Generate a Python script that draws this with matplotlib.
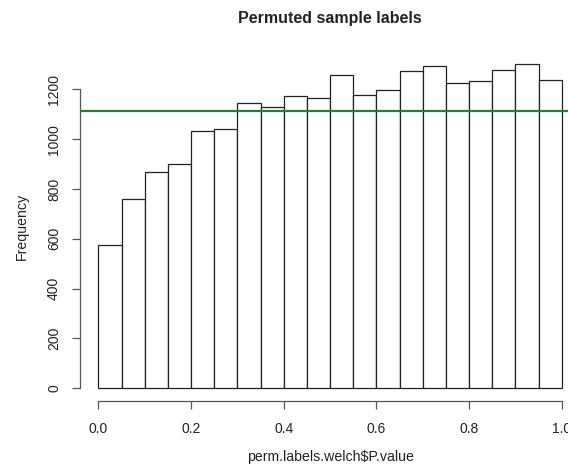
import numpy as np
import matplotlib.pyplot as plt

plt.rcParams['font.family'] = ['Liberation Sans', 'DejaVu Sans']

# histogram of permuted p-values, 20 bins of width 0.05
bin_edges = np.linspace(0, 1, 21)
counts = [575, 760, 869, 900, 1034, 1042, 1144, 1129, 1173, 1164,
          1257, 1178, 1196, 1275, 1292, 1225, 1235, 1276, 1302, 1239]
yticks = [0, 200, 400, 600, 800, 1000, 1200]
xticks = [0.0, 0.2, 0.4, 0.6, 0.8, 1.0]
mean_count = np.mean(counts)

fig = plt.figure(figsize=(5.68, 4.68), dpi=100)
ax = fig.add_axes([0.1405, 0.1425, 0.881, 0.7487])

ax.bar(bin_edges[:-1], counts, width=np.diff(bin_edges), align='edge',
       color='white', edgecolor='#222222', linewidth=0.9)
ax.axhline(mean_count, color='#2b7d2b', linewidth=1.6)

ax.set_xlim(-0.04, 1.04)
ax.set_ylim(-0.04 * max(counts), 1.04 * max(counts))

for side in ['top', 'right']:
    ax.spines[side].set_visible(False)
ax.spines['left'].set_bounds(0, 1200)
ax.spines['bottom'].set_bounds(0, 1)
for side in ['left', 'bottom']:
    ax.spines[side].set_color('#555555')
    ax.spines[side].set_linewidth(0.9)

ax.set_xticks(xticks)
ax.set_xticklabels([f'{v:.1f}' for v in xticks])
ax.set_yticks(yticks)
ax.set_yticklabels([str(v) for v in yticks], rotation=90, va='center')
ax.tick_params(axis='both', direction='out', length=5.5, width=0.9,
               color='#555555', labelsize=10, labelcolor='#222222')
ax.tick_params(axis='x', pad=9.5)
ax.tick_params(axis='y', pad=8)

fig.text(330 / 568, 1 - 18 / 468, 'Permuted sample labels', ha='center',
         va='center', fontsize=11.5, fontweight='bold', color='#222222')
fig.text(330 / 568, 1 - 457 / 468, 'perm.labels.welch$P.value', ha='center',
         va='center', fontsize=10.2, color='#222222')
fig.text(22 / 568, 1 - 226 / 468, 'Frequency', ha='center', va='center',
         rotation=90, fontsize=10.2, color='#222222')

fig.savefig('out.png', dpi=100)
